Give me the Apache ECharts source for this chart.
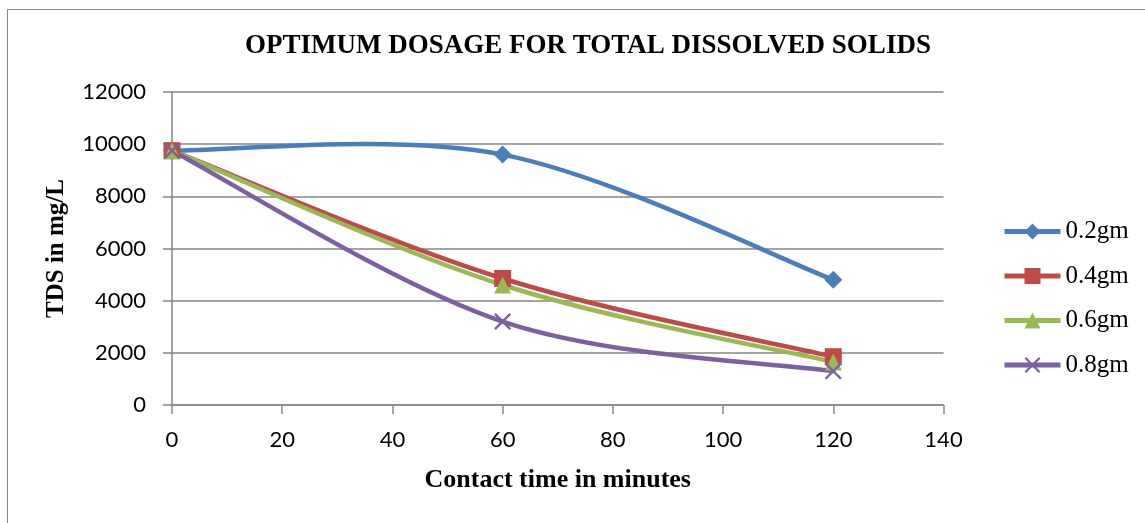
<!DOCTYPE html>
<html>
<head>
<meta charset="utf-8">
<script src="https://cdn.jsdelivr.net/npm/echarts@6/dist/echarts.min.js"></script>
<style>html,body{margin:0;padding:0;background:#fff}#c{width:1145px;height:523px}</style>
</head>
<body>
<div id="c"></div>
<script>
const contactTime = [0, 60, 120];
const dose02 = [9750, 9600, 4800];
const dose04 = [9750, 4850, 1850];
const dose06 = [9750, 4600, 1650];
const dose08 = [9750, 3200, 1300];
const seriesNames = ['0.2gm', '0.4gm', '0.6gm', '0.8gm'];
const seriesColors = ['#4A7EBB', '#BE4B48', '#98B954', '#7D60A0'];
const seriesSymbols = ['diamond', 'rect', 'triangle',
  'path://M0,1 L1,0 L5,4 L9,0 L10,1 L6,5 L10,9 L9,10 L5,6 L1,10 L0,9 L4,5 Z'];
const symbolSizes = [18, 17, 17, 17];
const allValues = [dose02, dose04, dose06, dose08];

const chart = echarts.init(document.getElementById('c'));

// Smooth curve (Excel-like cardinal spline) built in pixel space from api.coord
function makeCurveRender(vals, color) {
  return function (params, api) {
    const i = params.dataIndex;
    if (i >= contactTime.length - 1) return null;
    const P = contactTime.map((t, j) => api.coord([t, vals[j]]));
    const p0 = P[Math.max(i - 1, 0)], p1 = P[i], p2 = P[i + 1], p3 = P[Math.min(i + 2, P.length - 1)];
    const k = 1 / 6;
    const c1 = [p1[0] + (p2[0] - p0[0]) * k, p1[1] + (p2[1] - p0[1]) * k];
    const c2 = [p2[0] - (p3[0] - p1[0]) * k, p2[1] - (p3[1] - p1[1]) * k];
    return {
      type: 'bezierCurve',
      shape: { x1: p1[0], y1: p1[1], cpx1: c1[0], cpy1: c1[1], cpx2: c2[0], cpy2: c2[1], x2: p2[0], y2: p2[1] },
      style: { stroke: color, lineWidth: 4.5, fill: null, lineCap: 'round' },
      silent: true
    };
  };
}

const curveSeries = allValues.map((vals, i) => ({
  name: seriesNames[i] + ' curve',
  type: 'custom',
  z: 2,
  renderItem: makeCurveRender(vals, seriesColors[i]),
  data: contactTime.map((t, j) => [t, vals[j]]),
  encode: { x: 0, y: 1 }
}));

const markerSeries = allValues.map((vals, i) => ({
  name: seriesNames[i],
  type: 'line',
  z: 3,
  data: contactTime.map((t, j) => [t, vals[j]]),
  symbol: seriesSymbols[i],
  symbolSize: symbolSizes[i],
  showAllSymbol: true,
  color: seriesColors[i],
  lineStyle: { width: 4.5, color: seriesColors[i], opacity: 0 },
  itemStyle: { color: seriesColors[i] }
}));

chart.setOption({
  animation: false,
  backgroundColor: '#fff',
  graphic: [{
    type: 'rect', silent: true,
    shape: { x: 7.5, y: 9.5, width: 1200, height: 600 },
    style: { fill: 'none', stroke: '#868686', lineWidth: 1 }
  }],
  title: {
    text: 'OPTIMUM DOSAGE FOR TOTAL DISSOLVED SOLIDS',
    left: 240, top: 28,
    textStyle: { fontFamily: 'Liberation Serif', fontWeight: 'bold', fontSize: 27, color: '#000' }
  },
  legend: {
    orient: 'vertical',
    left: 1002, top: 219, padding: 0,
    itemWidth: 56, itemHeight: 20, itemGap: 19.5,
    data: seriesNames,
    lineStyle: { width: 5, opacity: 1 },
    textStyle: { fontFamily: 'Liberation Serif', fontSize: 25, color: '#000' }
  },
  grid: { left: 172, right: 201.5, top: 92, bottom: 118, containLabel: false },
  xAxis: {
    type: 'value', min: 0, max: 140, interval: 20,
    name: 'Contact time in minutes', nameLocation: 'middle', nameGap: 62,
    nameTextStyle: { fontFamily: 'Liberation Serif', fontWeight: 'bold', fontSize: 26, color: '#000' },
    axisLine: { show: true, lineStyle: { color: '#868686', width: 1.5 } },
    axisTick: { show: true, length: 9, lineStyle: { color: '#868686', width: 1.5 } },
    axisLabel: { fontFamily: 'Lato', fontSize: 22, color: '#000', margin: 24 },
    splitLine: { show: false }
  },
  yAxis: {
    type: 'value', min: 0, max: 12000, interval: 2000,
    name: 'TDS in mg/L', nameLocation: 'middle', nameGap: 103,
    nameTextStyle: { fontFamily: 'Liberation Serif', fontWeight: 'bold', fontSize: 25, color: '#000' },
    axisLine: { show: true, lineStyle: { color: '#868686', width: 1.5 } },
    axisTick: { show: true, length: 9, lineStyle: { color: '#868686', width: 1.5 } },
    axisLabel: { fontFamily: 'Lato', fontSize: 22, color: '#000', margin: 26, formatter: v => String(v) },
    splitLine: { show: true, lineStyle: { color: '#868686', width: 1.5 } }
  },
  series: curveSeries.concat(markerSeries)
});
</script>
</body>
</html>
